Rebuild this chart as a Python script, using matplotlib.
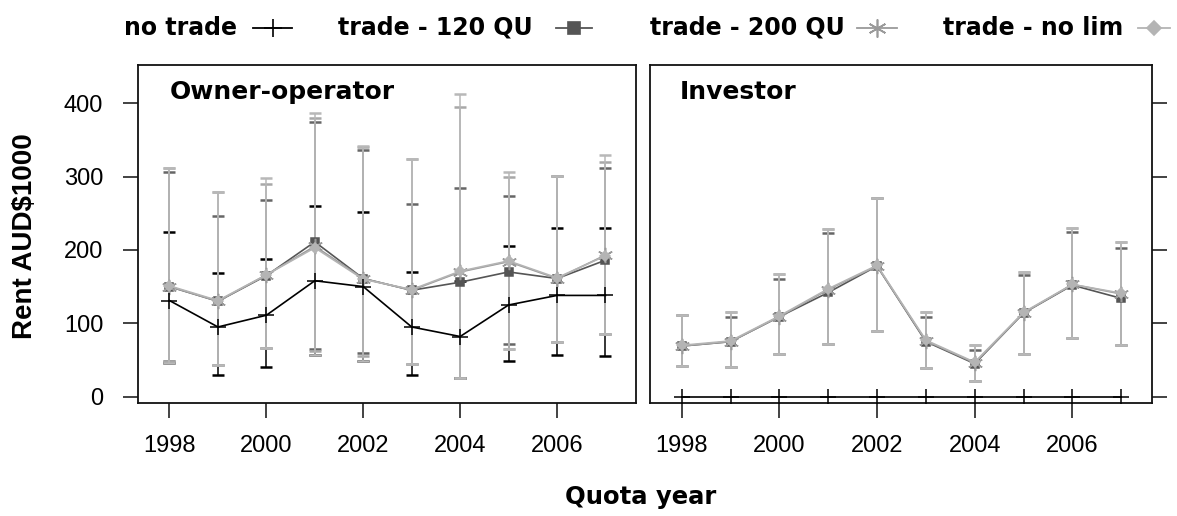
import matplotlib
matplotlib.use('Agg')
import matplotlib.pyplot as plt
from matplotlib.lines import Line2D

years = [1998, 1999, 2000, 2001, 2002, 2003, 2004, 2005, 2006, 2007]
series_names = ['no trade', 'trade - 120 QU', 'trade - 200 QU', 'trade - no lim']
panel_titles = ['Owner-operator', 'Investor']
y_ticks = [0, 100, 200, 300, 400]
x_ticks = [1998, 2000, 2002, 2004, 2006]

# Owner-operator panel
oo_nt = [131, 95, 111, 158, 150, 95, 82, 125, 138, 138]
oo_nt_lo = [46, 30, 41, 57, 48, 30, 25, 49, 57, 55]
oo_nt_hi = [225, 168, 187, 260, 252, 170, 158, 206, 230, 230]
oo_120 = [150, 130, 165, 211, 161, 145, 156, 170, 161, 186]
oo_120_lo = [48, 43, 67, 65, 60, 44, 25, 72, 74, 85]
oo_120_hi = [306, 246, 268, 375, 336, 262, 285, 274, 301, 311]
oo_200 = [150, 130, 166, 205, 161, 145, 170, 184, 161, 193]
oo_200_lo = [48, 43, 67, 62, 55, 44, 25, 65, 74, 85]
oo_200_hi = [311, 279, 290, 380, 340, 324, 395, 299, 301, 320]
oo_nl = [151, 131, 166, 203, 160, 146, 171, 185, 162, 192]
oo_nl_lo = [46, 43, 67, 57, 48, 44, 25, 65, 74, 85]
oo_nl_hi = [311, 279, 298, 387, 342, 324, 412, 306, 301, 330]

# Investor panel
iv_nt = [0, 0, 0, 0, 0, 0, 0, 0, 0, 0]
iv_nt_lo = [0, 0, 0, 0, 0, 0, 0, 0, 0, 0]
iv_nt_hi = [0, 0, 0, 0, 0, 0, 0, 0, 0, 0]
iv_120 = [69, 75, 109, 142, 178, 75, 45, 114, 152, 134]
iv_120_lo = [42, 41, 58, 72, 90, 39, 22, 58, 80, 71]
iv_120_hi = [111, 109, 160, 223, 271, 109, 63, 166, 225, 203]
iv_200 = [69, 75, 109, 146, 178, 76, 46, 114, 153, 140]
iv_200_lo = [42, 41, 58, 72, 90, 39, 22, 58, 80, 71]
iv_200_hi = [111, 115, 167, 229, 271, 116, 70, 170, 230, 211]
iv_nl = [70, 76, 110, 147, 179, 77, 47, 115, 153, 141]
iv_nl_lo = [42, 41, 58, 72, 90, 39, 22, 58, 80, 71]
iv_nl_hi = [111, 115, 167, 229, 271, 116, 70, 170, 230, 211]

colors = ['#000000', '#555555', '#9a9a9a', '#b4b4b4']
bar_colors = ['#000000', '#666666', '#a8a8a8', '#b8b8b8']
markers = ['+', 's', (6, 2, 0), 'D']
msizes = [11, 6, 11, 5]

panels = [
    [(oo_nt, oo_nt_lo, oo_nt_hi), (oo_120, oo_120_lo, oo_120_hi),
     (oo_200, oo_200_lo, oo_200_hi), (oo_nl, oo_nl_lo, oo_nl_hi)],
    [(iv_nt, iv_nt_lo, iv_nt_hi), (iv_120, iv_120_lo, iv_120_hi),
     (iv_200, iv_200_lo, iv_200_hi), (iv_nl, iv_nl_lo, iv_nl_hi)],
]

plt.rcParams['font.family'] = ['Liberation Sans', 'DejaVu Sans']
fig = plt.figure(figsize=(11.77, 5.16), dpi=100)
W, H = 1177, 516
ax_pos = [(138, 65, 636, 403), (650, 65, 1152, 403)]

for p, (x0, y0, x1, y1) in enumerate(ax_pos):
    ax = fig.add_axes([x0 / W, 1 - y1 / H, (x1 - x0) / W, (y1 - y0) / H])
    data = panels[p]
    for i, (m, lo, hi) in enumerate(data):
        err_lo = [mm - l for mm, l in zip(m, lo)]
        err_hi = [h - mm for mm, h in zip(m, hi)]
        if p == 1 and i == 0:
            continue
        ax.errorbar(years, m, yerr=[err_lo, err_hi], fmt='none',
                    ecolor=bar_colors[i], elinewidth=1.1, capsize=4,
                    capthick=1.8, zorder=1 + i * 0.1)
    for i, (m, lo, hi) in enumerate(data):
        ax.plot(years, m, color=colors[i], lw=1.2, marker=markers[i],
                ms=msizes[i], mew=1.1, mfc=colors[i], mec=colors[i],
                zorder=5 - i * 0.5 if i == 0 else 3 + i * 0.2)
    ax.set_xlim(1997.35, 2007.63)
    ax.set_ylim(-8.6, 452)
    ax.set_xticks(x_ticks)
    ax.set_xticklabels([str(t) for t in x_ticks])
    ax.set_yticks(y_ticks)
    ax.tick_params(axis='both', direction='out', length=11, width=1.2,
                   color='#222222', labelsize=17, pad=14)
    ax.tick_params(axis='x', pad=12)
    if p == 0:
        ax.tick_params(axis='y', left=True, labelleft=True, right=False)
    else:
        ax.tick_params(axis='y', left=False, labelleft=False, right=True,
                       labelright=False)
    for s in ax.spines.values():
        s.set_linewidth(1.3)
        s.set_color('#111111')
    ax.text(0.064 if p == 0 else 0.06, 0.92, panel_titles[p],
            transform=ax.transAxes, fontsize=18, fontweight='bold',
            family='DejaVu Sans', va='center', ha='left')

# legend across the top
leg_text_right = [237, 533, 845, 1123]
leg_sym = [(253, 292), (556, 592), (857, 897), (1138, 1170)]
ly = 1 - 28 / H
for i, name in enumerate(series_names):
    fig.text(leg_text_right[i] / W, ly, name, ha='right', va='center',
             fontsize=17, fontweight='bold', family='DejaVu Sans')
    a, b = leg_sym[i]
    fig.add_artist(Line2D([a / W, b / W], [ly, ly], color=colors[i], lw=1.3,
                          transform=fig.transFigure))
    fig.add_artist(Line2D([(a + b) / 2 / W], [ly], color=colors[i],
                          marker=markers[i], ms=msizes[i] + 2, mew=1.2,
                          mfc=colors[i], mec=colors[i],
                          transform=fig.transFigure))

fig.text(25 / W, 1 - 236 / H, 'Rent AUD$1000', rotation=90, ha='center',
         va='center', fontsize=20, fontweight='bold')
fig.text(641 / W, 1 - 497 / H, 'Quota year', ha='center', va='center',
         fontsize=17.5, fontweight='bold', family='DejaVu Sans')

fig.savefig('out.png', dpi=100)
